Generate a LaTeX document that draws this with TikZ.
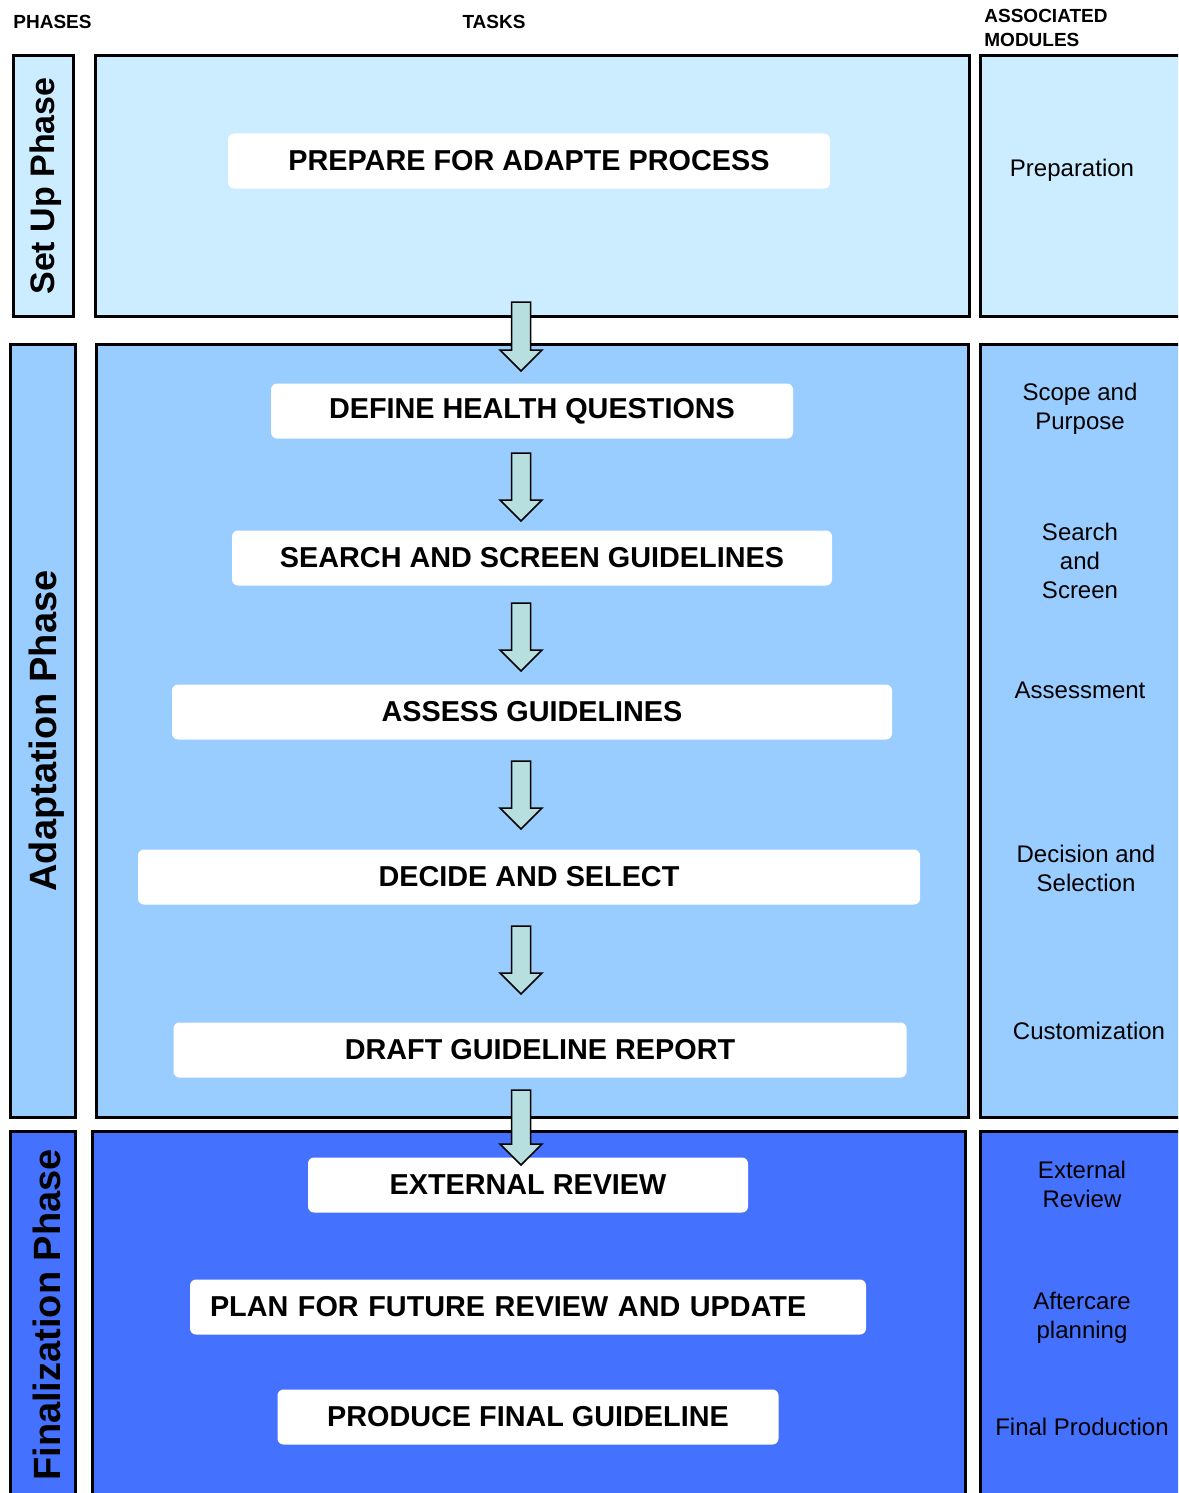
\documentclass[tikz,border=0pt]{standalone}
\usepackage{fontspec}
\setmainfont{Liberation Sans}
\usetikzlibrary{calc}
\definecolor{setcol}{HTML}{CCECFF}
\definecolor{adcol}{HTML}{99CCFF}
\definecolor{fincol}{HTML}{4571FF}
\definecolor{arrcol}{HTML}{B7DFE0}
\tikzset{
  downarr/.pic={
    \draw[fill=arrcol,line width=0.75pt]
      (-9.5,0) -- (-9.5,#1-21) -- (-21,#1-21) -- (0,#1) --
      (21,#1-21) -- (9.5,#1-21) -- (9.5,0) -- cycle;
  },
  frame/.style={draw,line width=1.5pt},
  taskbox/.style={fill=white,rounded corners=3pt,minimum height=27.5pt,
    inner sep=0pt,font=\fontsize{14.4}{17}\selectfont\bfseries},
  modtext/.style={align=center,inner sep=0pt,
    font=\fontsize{12}{14.5}\selectfont},
  phasetext/.style={rotate=90,inner sep=0pt,
    font=\fontsize{19}{22}\selectfont\bfseries},
  headtext/.style={inner sep=0pt,font=\fontsize{9.5}{11.75}\selectfont\bfseries},
}
\begin{document}
\begin{tikzpicture}[x=0.5pt,y=-0.5pt]
\useasboundingbox (0,0) rectangle (1178,1493);
\clip (0,0) rectangle (1178,1493);
\node[headtext,anchor=west] (phases) at (13,22) {PHASES};
\node[headtext] (tasks) at (494,22) {TASKS};
\node[headtext,anchor=west,align=left] (modules) at (984,28) {ASSOCIATED\\MODULES};
\draw[frame,fill=setcol]
  (13,56) rectangle (73,316.5);
\draw[frame,fill=setcol]
  (95,56) rectangle (969,316.5);
\draw[frame,fill=setcol]
  (980.5,56) rectangle (1200,316.5);
\draw[frame,fill=adcol]
  (10,344.5) rectangle (75,1117.5);
\draw[frame,fill=adcol]
  (96,344.5) rectangle (968,1117.5);
\draw[frame,fill=adcol]
  (980.5,344.5) rectangle (1200,1117.5);
\draw[frame,fill=fincol]
  (10,1131) rectangle (75.5,1520);
\draw[frame,fill=fincol]
  (92.3,1131) rectangle (965,1520);
\draw[frame,fill=fincol]
  (980.5,1131) rectangle (1200,1520);
\node[phasetext,font=\fontsize{17}{20}\selectfont\bfseries] (setup) at (46,186) {Set Up Phase};
\node[phasetext] (adapt) at (47,731) {Adaptation Phase};
\node[phasetext] (final) at (47,1315) {Finalization Phase};
\node[taskbox,minimum width=301pt] (prep) at (529,161) {PREPARE FOR ADAPTE PROCESS};
\node[taskbox,minimum width=261pt] (define) at (532,411) {DEFINE HEALTH QUESTIONS};
\node[taskbox,minimum width=300pt] (search) at (532,558) {SEARCH AND SCREEN GUIDELINES};
\node[taskbox,minimum width=360pt] (assess) at (532,712) {ASSESS GUIDELINES};
\node[taskbox,minimum width=391pt] (decide) at (529,877) {DECIDE AND SELECT};
\node[taskbox,minimum width=366.5pt] (draft) at (540,1050) {DRAFT GUIDELINE REPORT};
\node[taskbox,minimum width=220pt] (extrev) at (528,1185) {EXTERNAL REVIEW};
\node[taskbox,text width=318pt,inner xsep=10pt,align=left] (plan) at (528,1307) {PLAN FOR FUTURE REVIEW AND UPDATE};
\node[taskbox,minimum width=250.5pt] (produce) at (528,1417) {PRODUCE FINAL GUIDELINE};
\node[modtext] (mprep) at (1072,170) {Preparation};
\node[modtext] (mscope) at (1080,409) {Scope and\\Purpose};
\node[modtext] (msearch) at (1080,561) {Search\\and\\Screen};
\node[modtext] (massess) at (1080,690) {Assessment};
\node[modtext] (mdecide) at (1086,868) {Decision and\\Selection};
\node[modtext] (mcustom) at (1089,1031) {Customization};
\node[modtext] (mextrev) at (1082,1184) {External\\Review};
\node[modtext] (mafter) at (1082,1318) {Aftercare\\planning};
\node[modtext] (mfinal) at (1082,1427) {Final Production};
\path
  pic at (521,302) {downarr=69}
  pic at (521,453) {downarr=68}
  pic at (521,603) {downarr=68}
  pic at (521,761) {downarr=68}
  pic at (521,926) {downarr=68}
  pic at (521,1090) {downarr=75};
\end{tikzpicture}
\end{document}
